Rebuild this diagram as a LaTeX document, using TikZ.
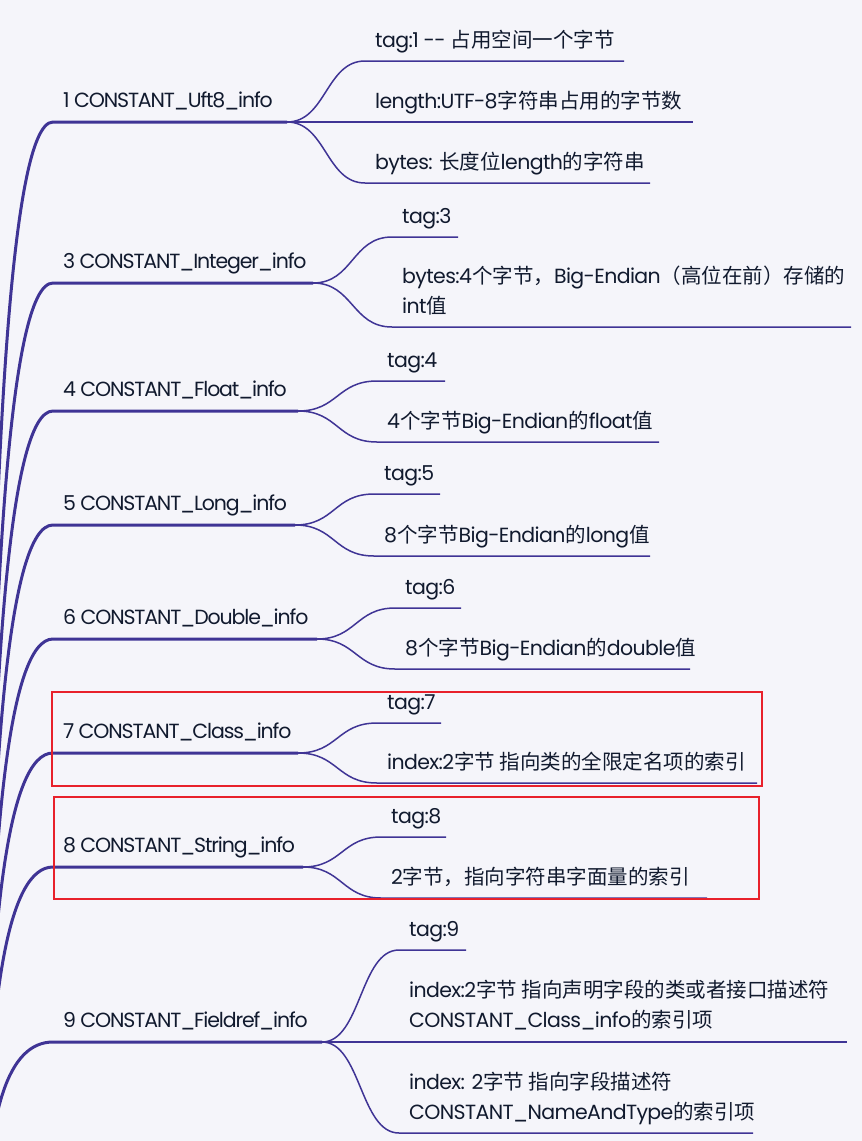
\documentclass[tikz,border=0pt]{standalone}
\usepackage{fontspec}
\setmainfont{Poppins}[LetterSpace=-3]
\newfontfamily\lvlone{Poppins}[LetterSpace=-5.5]
\newfontfamily\cjk{Noto Sans CJK SC}
\newcommand\zh[1]{{\cjk #1}}
\usetikzlibrary{calc}
\definecolor{bgc}{HTML}{F5F5FA}
\definecolor{brc}{HTML}{3F3495}
\definecolor{txc}{HTML}{111A2E}
\definecolor{rdc}{HTML}{E8212B}
\begin{document}
\begin{tikzpicture}[x=1pt,y=-1pt,
  lbl/.style={anchor=base west, inner sep=0pt, text=txc, font=\fontsize{20.5}{24}\selectfont},
  toplbl/.style={lbl, font=\fontsize{20.5}{24}\lvlone},
  mainline/.style={draw=brc, line width=3pt},
  subline/.style={draw=brc, line width=1.5pt},
  hlbox/.style={draw=rdc, line width=2pt}]
\useasboundingbox (0,0) rectangle (862,1141);
\fill[bgc] (0,0) rectangle (862,1141);
\begin{scope}
\clip (0,0) rectangle (862,1141);
\coordinate (root) at (-14,1247);
% ---------- branch 1
\coordinate (b1s) at (53,122); \coordinate (b1e) at (287,122);
\draw[mainline] (root) .. controls ($(root)!2/3!(root |- b1s)$) and ($(b1s)!2/3!(root |- b1s)$) .. (b1s) -- (b1e);
\node[toplbl] (t1) at (63,107) {1 CONSTANT\_Uft8\_info};
\coordinate (c1a) at (365,61);  \coordinate (c1ae) at (624,61);
\coordinate (c1b) at (365,122); \coordinate (c1be) at (693,122);
\coordinate (c1c) at (365,183); \coordinate (c1ce) at (650,183);
\draw[subline] (b1e) .. controls +(39,0) and +(-39,0) .. (c1a) -- (c1ae);
\draw[subline] (b1e) -- (c1b) -- (c1be);
\draw[subline] (b1e) .. controls +(39,0) and +(-39,0) .. (c1c) -- (c1ce);
\node[lbl] (t1a) at (375,47) {tag:1 -{}- \zh{占用空间一个字节}};
\node[lbl] (t1b) at (375,108) {length:UTF-8\zh{字符串占用的字节数}};
\node[lbl] (t1c) at (375,169) {bytes: \zh{长度位}length\zh{的字符串}};
% ---------- branch 3
\coordinate (b3s) at (53,283); \coordinate (b3e) at (313,283);
\draw[mainline] (root) .. controls ($(root)!2/3!(root |- b3s)$) and ($(b3s)!2/3!(root |- b3s)$) .. (b3s) -- (b3e);
\node[toplbl] (t3) at (63,268) {3 CONSTANT\_Integer\_info};
\coordinate (c3a) at (392,237); \coordinate (c3ae) at (458,237);
\coordinate (c3b) at (392,327); \coordinate (c3be) at (851,327);
\draw[subline] (b3e) .. controls +(40,0) and +(-40,0) .. (c3a) -- (c3ae);
\draw[subline] (b3e) .. controls +(40,0) and +(-40,0) .. (c3b) -- (c3be);
\node[lbl] (t3a) at (402,223) {tag:3};
\node[lbl] (t3b) at (402,283) {bytes:4\zh{个字节，}Big-Endian\zh{（高位在前）存储的}};
\node[lbl] (t3bb) at (402,313) {int\zh{值}};
% ---------- branch 4
\coordinate (b4s) at (53,411); \coordinate (b4e) at (298,411);
\draw[mainline] (root) .. controls ($(root)!2/3!(root |- b4s)$) and ($(b4s)!2/3!(root |- b4s)$) .. (b4s) -- (b4e);
\node[toplbl] (t4) at (63,396) {4 CONSTANT\_Float\_info};
\coordinate (c4a) at (377,381); \coordinate (c4ae) at (445,381);
\coordinate (c4b) at (377,442); \coordinate (c4be) at (659,442);
\draw[subline] (b4e) .. controls +(40,0) and +(-40,0) .. (c4a) -- (c4ae);
\draw[subline] (b4e) .. controls +(40,0) and +(-40,0) .. (c4b) -- (c4be);
\node[lbl] (t4a) at (387,367) {tag:4};
\node[lbl] (t4b) at (387,428) {4\zh{个字节}Big-Endian\zh{的}float\zh{值}};
% ---------- branch 5
\coordinate (b5s) at (53,525); \coordinate (b5e) at (295,525);
\draw[mainline] (root) .. controls ($(root)!2/3!(root |- b5s)$) and ($(b5s)!2/3!(root |- b5s)$) .. (b5s) -- (b5e);
\node[toplbl] (t5) at (63,510) {5 CONSTANT\_Long\_info};
\coordinate (c5a) at (374,494); \coordinate (c5ae) at (440,494);
\coordinate (c5b) at (374,556); \coordinate (c5be) at (650,556);
\draw[subline] (b5e) .. controls +(40,0) and +(-40,0) .. (c5a) -- (c5ae);
\draw[subline] (b5e) .. controls +(40,0) and +(-40,0) .. (c5b) -- (c5be);
\node[lbl] (t5a) at (384,480) {tag:5};
\node[lbl] (t5b) at (384,542) {8\zh{个字节}Big-Endian\zh{的}long\zh{值}};
% ---------- branch 6
\coordinate (b6s) at (53,639); \coordinate (b6e) at (317,639);
\draw[mainline] (root) .. controls ($(root)!2/3!(root |- b6s)$) and ($(b6s)!2/3!(root |- b6s)$) .. (b6s) -- (b6e);
\node[toplbl] (t6) at (63,624) {6 CONSTANT\_Double\_info};
\coordinate (c6a) at (395,608); \coordinate (c6ae) at (461,608);
\coordinate (c6b) at (395,669); \coordinate (c6be) at (690,669);
\draw[subline] (b6e) .. controls +(39,0) and +(-39,0) .. (c6a) -- (c6ae);
\draw[subline] (b6e) .. controls +(39,0) and +(-39,0) .. (c6b) -- (c6be);
\node[lbl] (t6a) at (405,594) {tag:6};
\node[lbl] (t6b) at (405,655) {8\zh{个字节}Big-Endian\zh{的}double\zh{值}};
% ---------- branch 7
\coordinate (b7s) at (53,753); \coordinate (b7e) at (298,753);
\draw[mainline] (root) .. controls ($(root)!2/3!(root |- b7s)$) and ($(b7s)!2/3!(root |- b7s)$) .. (b7s) -- (b7e);
\node[toplbl] (t7) at (63,738) {7 CONSTANT\_Class\_info};
\coordinate (c7a) at (377,723); \coordinate (c7ae) at (441,723);
\coordinate (c7b) at (377,783); \coordinate (c7be) at (757,783);
\draw[subline] (b7e) .. controls +(40,0) and +(-40,0) .. (c7a) -- (c7ae);
\draw[subline] (b7e) .. controls +(40,0) and +(-40,0) .. (c7b) -- (c7be);
\node[lbl] (t7a) at (387,709) {tag:7};
\node[lbl] (t7b) at (387,769) {index:2\zh{字节 指向类的全限定名项的索引}};
% ---------- branch 8
\coordinate (b8s) at (53,867); \coordinate (b8e) at (303,867);
\draw[mainline] (root) .. controls ($(root)!2/3!(root |- b8s)$) and ($(b8s)!2/3!(root |- b8s)$) .. (b8s) -- (b8e);
\node[toplbl] (t8) at (63,852) {8 CONSTANT\_String\_info};
\coordinate (c8a) at (381,837); \coordinate (c8ae) at (446,837);
\coordinate (c8b) at (381,898); \coordinate (c8be) at (707,898);
\draw[subline] (b8e) .. controls +(39,0) and +(-39,0) .. (c8a) -- (c8ae);
\draw[subline] (b8e) .. controls +(39,0) and +(-39,0) .. (c8b) -- (c8be);
\node[lbl] (t8a) at (391,823) {tag:8};
\node[lbl] (t8b) at (391,884) {2\zh{字节，指向字符串字面量的索引}};
% ---------- branch 9
\coordinate (b9s) at (53,1042); \coordinate (b9e) at (322,1042);
\draw[mainline] (root) .. controls ($(root)!2/3!(root |- b9s)$) and ($(b9s)!2/3!(root |- b9s)$) .. (b9s) -- (b9e);
\node[toplbl] (t9) at (63,1027) {9 CONSTANT\_Fieldref\_info};
\coordinate (c9a) at (399,950);  \coordinate (c9ae) at (466,950);
\coordinate (c9b) at (399,1042); \coordinate (c9be) at (847,1042);
\coordinate (c9c) at (399,1133); \coordinate (c9ce) at (753,1133);
\draw[subline] (b9e) .. controls +(39,0) and +(-39,0) .. (c9a) -- (c9ae);
\draw[subline] (b9e) -- (c9b) -- (c9be);
\draw[subline] (b9e) .. controls +(39,0) and +(-39,0) .. (c9c) -- (c9ce);
\node[lbl] (t9a) at (409,936) {tag:9};
\node[lbl] (t9b) at (409,997) {index:2\zh{字节 指向声明字段的类或者接口描述符}};
\node[lbl] (t9bb) at (409,1027) {CONSTANT\_Class\_info\zh{的索引项}};
\node[lbl] (t9c) at (409,1089) {index: 2\zh{字节 指向字段描述符}};
\node[lbl] (t9cc) at (409,1119) {CONSTANT\_NameAndType\zh{的索引项}};
\end{scope}
% ---------- highlight boxes
\draw[hlbox] (52,692) rectangle (762,786);
\draw[hlbox] (54,797) rectangle (759,899);
\end{tikzpicture}
\end{document}
